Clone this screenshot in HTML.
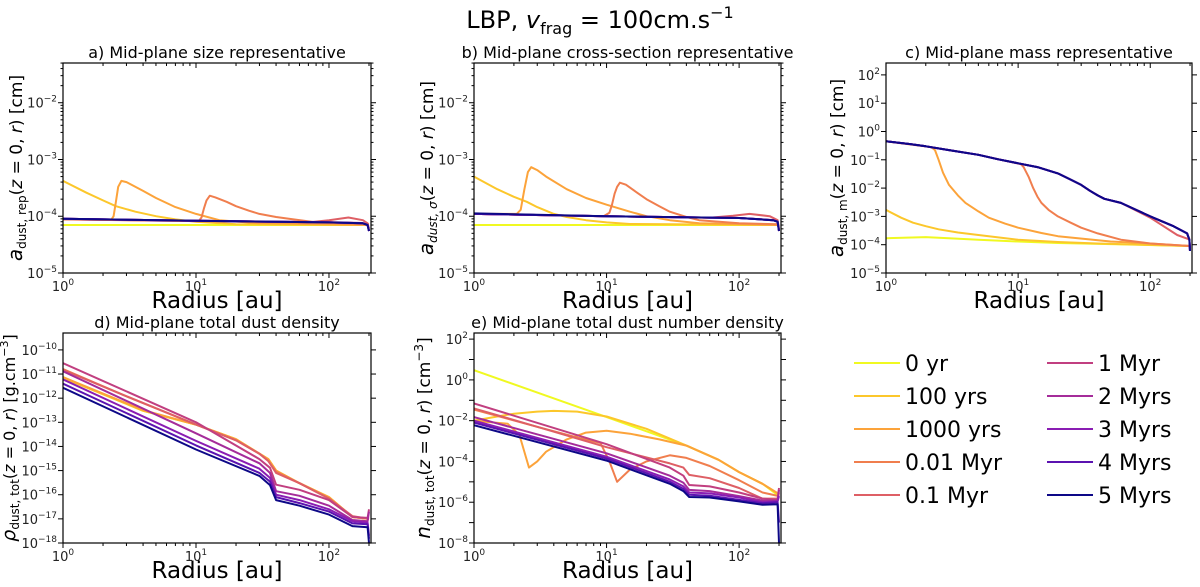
<!DOCTYPE html>
<html><head><meta charset="utf-8"><style>
html,body{margin:0;padding:0;background:#fff;}
svg{display:block;font-family:"DejaVu Sans","Liberation Sans",sans-serif;}
</style></head><body>
<svg id="fig" width="1200" height="587" viewBox="0 0 1200 587">
<text x="600" y="28" text-anchor="middle" font-size="24">LBP, <tspan font-style="italic">v</tspan><tspan font-size="16" dy="6">frag</tspan><tspan dy="-6"> = 100cm.s</tspan><tspan font-size="16" dy="-10">−1</tspan></text>
</svg>
<script>
const seriesLabels=['0 yr','100 yrs','1000 yrs','0.01 Myr','0.1 Myr','1 Myr','2 Myrs','3 Myrs','4 Myrs','5 Myrs'];
const seriesColors=['#f0f921','#fcc72b','#fca33a','#f07e4e','#de5f65','#c13f80','#a52c9a','#8a1db3','#5b13b0','#0d0887'];
const xTickExps=[0,1,2];
const sizeRepData=[
[[1,7e-5],[200,7e-5]],
[[1,4.2e-4],[1.5,2.6e-4],[2,1.9e-4],[2.5,1.5e-4],[3.5,1.2e-4],[5,1e-4],[7,8.8e-5],[10,8e-5],[20,7.2e-5],[200,7e-5]],
[[1,8.8e-5],[2.3,8.6e-5],[2.4,1e-4],[2.5,1.8e-4],[2.6,3.3e-4],[2.75,4.2e-4],[3,4e-4],[4,2.8e-4],[5,2.1e-4],[7,1.45e-4],[10,1.1e-4],[15,8.5e-5],[30,7.5e-5],[200,7e-5]],
[[1,8.8e-5],[10.5,8.2e-5],[11,9.5e-5],[11.5,1.4e-4],[12,1.9e-4],[12.7,2.3e-4],[14,2.15e-4],[17,1.8e-4],[20,1.5e-4],[25,1.25e-4],[30,1.1e-4],[40,9.7e-5],[50,9e-5],[80,7.8e-5],[200,7.2e-5]],
[[1,8.9e-5],[10,8.2e-5],[70,7.8e-5],[100,8.5e-5],[140,9.5e-5],[180,8.5e-5],[195,7.5e-5],[200,6e-5]],
[[1,9e-5],[10,8.3e-5],[100,7.9e-5],[180,7.6e-5],[195,7e-5],[200,5.5e-5]],
[[1,9e-5],[10,8.3e-5],[100,7.8e-5],[180,7.5e-5],[195,7e-5],[200,5.5e-5]],
[[1,9e-5],[10,8.3e-5],[100,7.8e-5],[180,7.5e-5],[195,7e-5],[200,5.5e-5]],
[[1,9e-5],[10,8.3e-5],[100,7.8e-5],[180,7.5e-5],[195,7e-5],[200,5.5e-5]],
[[1,9e-5],[10,8.3e-5],[100,7.8e-5],[180,7.5e-5],[195,7e-5],[200,5.5e-5]]
];
const crossRepData=[
[[1,7e-5],[200,7e-5]],
[[1,5e-4],[1.5,3e-4],[2,2.2e-4],[2.5,1.8e-4],[3,1.45e-4],[4,1.1e-4],[5,9.7e-5],[7,8.5e-5],[10,7.8e-5],[15,7.3e-5],[200,7e-5]],
[[1,1.1e-4],[2.1,1.1e-4],[2.25,1.3e-4],[2.4,3e-4],[2.55,6e-4],[2.7,7.3e-4],[3,6.5e-4],[3.5,5e-4],[5,3e-4],[7,2.1e-4],[10,1.6e-4],[15,1.2e-4],[20,1e-4],[30,8.5e-5],[50,7.5e-5],[200,7e-5]],
[[1,1.1e-4],[9.5,1e-4],[10.5,1.15e-4],[11,1.6e-4],[11.5,2.5e-4],[12,3.3e-4],[12.6,3.9e-4],[14,3.6e-4],[17,2.6e-4],[20,2e-4],[25,1.5e-4],[30,1.2e-4],[40,9.7e-5],[50,8.5e-5],[100,7.5e-5],[200,7.2e-5]],
[[1,1.1e-4],[10,1e-4],[60,9.4e-5],[90,1.02e-4],[120,1.1e-4],[170,1e-4],[195,8.5e-5],[200,6e-5]],
[[1,1.1e-4],[10,1e-4],[100,9.3e-5],[180,8.6e-5],[195,8e-5],[200,5.5e-5]],
[[1,1.1e-4],[10,1e-4],[100,9.3e-5],[180,8.5e-5],[195,8e-5],[200,5.5e-5]],
[[1,1.1e-4],[10,1e-4],[100,9.3e-5],[180,8.5e-5],[195,8e-5],[200,5.5e-5]],
[[1,1.1e-4],[10,1e-4],[100,9.3e-5],[180,8.5e-5],[195,8e-5],[200,5.5e-5]],
[[1,1.12e-4],[10,1e-4],[100,9.3e-5],[180,8.5e-5],[195,8e-5],[200,5.5e-5]]
];
const massRepData=[
[[1,1.7e-4],[2,1.85e-4],[3,1.7e-4],[5,1.5e-4],[10,1.3e-4],[20,1.15e-4],[50,1.05e-4],[200,9e-5]],
[[1,1.7e-3],[1.3,9e-4],[1.6,6e-4],[2,4.5e-4],[2.5,3.5e-4],[3.5,2.7e-4],[5,2.2e-4],[10,1.5e-4],[20,1.25e-4],[40,1.1e-4],[200,9e-5]],
[[1,0.45],[2.2,0.28],[2.35,0.22],[2.5,0.1],[2.7,0.035],[3,0.013],[3.5,5.5e-3],[4,3e-3],[5,1.5e-3],[6,9e-4],[8,5.5e-4],[10,4e-4],[15,2.6e-4],[20,2e-4],[50,1.3e-4],[100,1.1e-4],[200,9e-5]],
[[1,0.45],[2,0.3],[5,0.15],[10.5,0.07],[11,0.055],[12,0.025],[13,0.01],[14,5e-3],[15,3e-3],[17,1.7e-3],[20,1e-3],[25,6e-4],[30,4e-4],[40,2.5e-4],[60,1.5e-4],[100,1.1e-4],[200,9e-5]],
[[1,0.45],[1.5,0.36],[2,0.3],[3,0.22],[5,0.15],[7,0.105],[10,0.075],[14,0.055],[20,0.033],[25,0.02],[30,0.013],[35,0.008],[40,0.0055],[45,0.0042],[60,0.003],[100,9e-4],[160,2.2e-4],[200,1.5e-4]],
[[1,0.45],[1.5,0.36],[2,0.3],[3,0.22],[5,0.15],[7,0.105],[10,0.075],[14,0.055],[20,0.033],[25,0.02],[30,0.013],[35,0.008],[40,0.0055],[45,0.0042],[60,0.003],[100,0.001],[150,4.5e-4],[190,2.5e-4],[198,1.5e-4],[200,6e-5]],
[[1,0.45],[1.5,0.36],[2,0.3],[3,0.22],[5,0.15],[7,0.105],[10,0.075],[14,0.055],[20,0.033],[25,0.02],[30,0.013],[35,0.008],[40,0.0055],[45,0.0042],[60,0.003],[100,0.001],[150,4.5e-4],[190,2.5e-4],[198,1.5e-4],[200,6e-5]],
[[1,0.45],[1.5,0.36],[2,0.3],[3,0.22],[5,0.15],[7,0.105],[10,0.075],[14,0.055],[20,0.033],[25,0.02],[30,0.013],[35,0.008],[40,0.0055],[45,0.0042],[60,0.003],[100,0.001],[150,4.5e-4],[190,2.5e-4],[198,1.5e-4],[200,6e-5]],
[[1,0.45],[1.5,0.36],[2,0.3],[3,0.22],[5,0.15],[7,0.105],[10,0.075],[14,0.055],[20,0.033],[25,0.02],[30,0.013],[35,0.008],[40,0.0055],[45,0.0042],[60,0.003],[100,0.001],[150,4.5e-4],[190,2.5e-4],[198,1.5e-4],[200,6e-5]],
[[1,0.45],[1.5,0.36],[2,0.3],[3,0.22],[5,0.15],[7,0.105],[10,0.075],[14,0.055],[20,0.033],[25,0.02],[30,0.013],[35,0.008],[40,0.0055],[45,0.0042],[60,0.003],[100,0.001],[150,4.5e-4],[190,2.5e-4],[198,1.5e-4],[200,6e-5]]
];
const rhoData=[
[[1,7e-12],[4,3e-13],[10,8e-14],[20,2e-14],[35,3e-15],[40,1e-15],[60,3e-16],[100,8e-17],[150,1.2e-17],[200,1e-17]],
[[1,7e-12],[4,3e-13],[10,8e-14],[20,2e-14],[35,3e-15],[40,1e-15],[60,3e-16],[100,8e-17],[150,1.2e-17],[200,1e-17]],
[[1,7.5e-12],[4,3.2e-13],[10,8e-14],[20,2e-14],[35,3e-15],[40,1e-15],[60,3e-16],[100,8e-17],[150,1.2e-17],[200,1e-17]],
[[1,1.6e-11],[3,1.2e-12],[10,8e-14],[20,1.8e-14],[30,5e-15],[35,2.5e-15],[40,9e-16],[60,3e-16],[100,7e-17],[150,1.2e-17],[200,1e-17]],
[[1,1.5e-11],[3,1.2e-12],[10,8e-14],[20,1.8e-14],[30,5e-15],[35,2.5e-15],[40,8e-16],[60,3e-16],[100,7e-17],[150,1.3e-17],[200,1e-17]],
[[1,2.8e-11],[10,1e-13],[30,3e-15],[36,1.3e-15],[40,2.6e-16],[60,1.6e-16],[100,6e-17],[150,1.2e-17],[195,1.1e-17],[200,2.5e-17]],
[[1,1.3e-11],[10,3.5e-14],[30,2e-15],[36,8e-16],[40,1.4e-16],[60,9e-17],[100,3.5e-17],[150,9e-18],[195,8e-18],[200,2e-17]],
[[1,6e-12],[10,1.7e-14],[30,1.2e-15],[36,5e-16],[40,1e-16],[60,6e-17],[100,2.5e-17],[150,8e-18],[195,7e-18],[200,2e-18]],
[[1,4e-12],[10,1.1e-14],[30,8e-16],[36,3.5e-16],[40,8e-17],[60,4.5e-17],[100,2e-17],[150,6.5e-18],[195,6e-18],[200,1.5e-18]],
[[1,2.7e-12],[10,7.5e-15],[30,6e-16],[36,2.5e-16],[40,6e-17],[60,3.5e-17],[100,1.5e-17],[150,5e-18],[195,4.5e-18],[200,1e-18]]
];
const numData=[
[[1,3],[10,1.5e-2],[40,6e-4],[70,1.2e-4],[100,3e-5],[150,8e-6],[200,2e-6]],
[[1,1e-2],[1.5,1.6e-2],[2,2.2e-2],[3,2.8e-2],[4,3e-2],[6,2.8e-2],[10,1.6e-2],[20,4e-3],[40,6e-4],[70,1.2e-4],[100,3e-5],[150,8e-6],[200,2.5e-6]],
[[1,1e-2],[1.8,7e-3],[2.2,2e-3],[2.6,5e-5],[3,1e-4],[3.5,3e-4],[5,1.2e-3],[7,2.6e-3],[10,3.2e-3],[15,2.3e-3],[25,1.2e-3],[40,6e-4],[70,1.2e-4],[100,3e-5],[150,8e-6],[200,2.5e-6]],
[[1,3.5e-2],[3,5e-3],[6,1.5e-3],[9,8e-4],[10.5,1e-4],[12,1e-5],[15,4e-5],[20,1e-4],[30,2e-4],[40,1.5e-4],[60,6e-5],[100,1.2e-5],[150,3e-6],[200,2e-6]],
[[1,4e-2],[3,5e-3],[10,5e-4],[30,8e-5],[38,5e-5],[42,2.2e-5],[60,1.5e-5],[100,5e-6],[150,1.5e-6],[195,1.5e-6],[200,3e-6]],
[[1,7e-2],[10,7e-4],[30,5e-5],[38,2e-5],[42,7e-6],[60,6e-6],[100,3e-6],[150,1.5e-6],[195,1.3e-6],[200,5e-6]],
[[1,1.5e-2],[10,2.5e-4],[30,2e-5],[38,9e-6],[42,4e-6],[60,3.5e-6],[100,2e-6],[150,1.2e-6],[195,1.2e-6],[200,4e-6]],
[[1,1e-2],[10,1.7e-4],[30,1.3e-5],[38,6e-6],[42,3e-6],[60,2.7e-6],[100,1.7e-6],[150,1e-6],[195,1.1e-6],[200,2e-6]],
[[1,8e-3],[10,1.4e-4],[30,1e-5],[38,4.5e-6],[42,2.3e-6],[60,2.1e-6],[100,1.3e-6],[150,9e-7],[195,1e-6],[200,1e-7]],
[[1,6e-3],[10,1.1e-4],[30,8e-6],[38,3.5e-6],[42,1.8e-6],[60,1.7e-6],[100,1.1e-6],[150,7.5e-7],[195,8e-7],[200,1e-8]]
];
const panelYTicks={a:[-5,-4,-3,-2],b:[-5,-4,-3,-2],c:[-5,-4,-3,-2,-1,0,1,2],d:[-18,-17,-16,-15,-14,-13,-12,-11,-10],e:[-8,-6,-4,-2,0,2]};

const NS='http://www.w3.org/2000/svg';
const svg=document.getElementById('fig');
function el(tag,attrs,parent){const e=document.createElementNS(NS,tag);for(const k in attrs)e.setAttribute(k,attrs[k]);(parent||svg).appendChild(e);return e;}
const XMAXLOG=Math.log10(207);

function drawPanel(p){
  const g=el('g',{});
  
  
  const xs=r=>p.x0+Math.log10(r)/XMAXLOG*(p.x1-p.x0);
  const ys=v=>p.y1-(Math.log10(v)-p.lo)/(p.hi-p.lo)*(p.y1-p.y0);
  const cid='clip'+p.key;
  const cp=el('clipPath',{id:cid},g);el('rect',{x:p.x0,y:p.y0,width:p.x1-p.x0,height:p.y1-p.y0},cp);
  p.data.forEach((s,i)=>{
    const d=s.map((pt,j)=>(j?'L':'M')+xs(pt[0]).toFixed(1)+','+ys(pt[1]).toFixed(1)).join('');
    const path=el('path',{d:d,fill:'none',stroke:seriesColors[i],'stroke-width':2,'stroke-linejoin':'round','clip-path':'url(#'+cid+')'},g);
    
    
  });
  const fr=el('rect',{x:p.x0,y:p.y0,width:p.x1-p.x0,height:p.y1-p.y0,fill:'none',stroke:'#000','stroke-width':1.2},g);
  
  
  for(let e=0;e<=2;e++){for(let m=1;m<10;m++){const r=m*Math.pow(10,e);if(r>207)break;const x=xs(r);const L=m===1?5:3;
    el('line',{x1:x,x2:x,y1:p.y1,y2:p.y1+L,stroke:'#000','stroke-width':1},g);
    el('line',{x1:x,x2:x,y1:p.y0,y2:p.y0+L,stroke:'#000','stroke-width':1},g);}}
  xTickExps.forEach(e=>{const t=el('text',{x:xs(Math.pow(10,e)),y:p.y1+18,'text-anchor':'middle','font-size':13,fill:'#222'},g);
    
    
    t.innerHTML='10<tspan font-size="9" dy="-6">'+e+'</tspan>';});
  for(let e=Math.floor(p.lo);e<=Math.ceil(p.hi);e++){
    for(let m=1;m<10;m++){const v=m*Math.pow(10,e);const lv=Math.log10(v);if(lv<p.lo-1e-6||lv>p.hi)continue;const y=ys(v);const L=m===1?5:2.5;
      if(m>1 && (p.hi-p.lo)>7) continue;
      el('line',{x1:p.x0-L,x2:p.x0,y1:y,y2:y,stroke:'#000','stroke-width':1},g);
      el('line',{x1:p.x1,x2:p.x1+L,y1:y,y2:y,stroke:'#000','stroke-width':1},g);}
  }
  p.yt.forEach(e=>{const y=ys(Math.pow(10,e));const t=el('text',{x:p.x0-6,y:y+5,'text-anchor':'end','font-size':13,fill:'#222'},g);
    
    
    t.innerHTML='10<tspan font-size="9" dy="-6">'+(e<0?'−'+(-e):e)+'</tspan>';});
  const tt=el('text',{x:(p.x0+p.x1)/2,y:p.y0-5,'text-anchor':'middle','font-size':16},g);
  tt.textContent=p.title;
  
  
  const xl=el('text',{x:(p.x0+p.x1)/2,y:p.y1+35,'text-anchor':'middle','font-size':23},g);
  xl.textContent='Radius [au]';
  
  
  const cy=(p.y0+p.y1)/2;
  const yl=el('text',{x:p.ylx,y:cy,'text-anchor':'middle','font-size':p.yfs||17,transform:'rotate(-90 '+p.ylx+' '+cy+')'},g);
  yl.innerHTML=p.ylab;
  
  
}
const sub=s=>'<tspan font-size="12" dy="4">'+s+'</tspan><tspan dy="-4">';
drawPanel({key:'a',name:'panel-a-size-representative',x0:63,x1:371,y0:63,y1:273,lo:-5,hi:-1.3,yt:panelYTicks.a,data:sizeRepData,title:'a) Mid-plane size representative',ylx:22,
  ylab:'<tspan font-style="italic" font-size="20">a</tspan>'+sub('dust, rep')+'(<tspan font-style="italic">z</tspan> = 0, <tspan font-style="italic">r</tspan>) [cm]</tspan>'});
drawPanel({key:'b',name:'panel-b-cross-section-representative',x0:474,x1:781,y0:63,y1:273,lo:-5,hi:-1.3,yt:panelYTicks.b,data:crossRepData,title:'b) Mid-plane cross-section representative',ylx:433,
  ylab:'<tspan font-style="italic" font-size="20">a</tspan>'+sub('<tspan font-style="italic">dust, σ</tspan>')+'(<tspan font-style="italic">z</tspan> = 0, <tspan font-style="italic">r</tspan>) [cm]</tspan>'});
drawPanel({key:'c',name:'panel-c-mass-representative',x0:886,x1:1192,y0:63,y1:273,lo:-5,hi:2.42,yt:panelYTicks.c,data:massRepData,title:'c) Mid-plane mass representative',ylx:843,
  ylab:'<tspan font-style="italic" font-size="20">a</tspan>'+sub('dust, m')+'(<tspan font-style="italic">z</tspan> = 0, <tspan font-style="italic">r</tspan>) [cm]</tspan>'});
drawPanel({key:'d',name:'panel-d-total-dust-density',x0:63,x1:371,y0:333,y1:543,lo:-18,hi:-9.3,yt:panelYTicks.d,data:rhoData,title:'d) Mid-plane total dust density',ylx:15,yfs:16,
  ylab:'<tspan font-style="italic" font-size="19">ρ</tspan>'+sub('dust, tot')+'(<tspan font-style="italic">z</tspan> = 0, <tspan font-style="italic">r</tspan>) [g.cm</tspan><tspan font-size="11" dy="-7">−3</tspan><tspan dy="7">]</tspan>'});
drawPanel({key:'e',name:'panel-e-total-dust-number-density',x0:474,x1:781,y0:333,y1:543,lo:-8,hi:2.3,yt:panelYTicks.e,data:numData,title:'e) Mid-plane total dust number density',ylx:430,
  ylab:'<tspan font-style="italic" font-size="20">n</tspan>'+sub('dust, tot')+'(<tspan font-style="italic">z</tspan> = 0, <tspan font-style="italic">r</tspan>) [cm</tspan><tspan font-size="12" dy="-7">−3</tspan><tspan dy="7">]</tspan>'});

const lg=el('g',{});


seriesLabels.forEach((lab,i)=>{
  const col=Math.floor(i/5),row=i%5;
  const lx=col?1047:854, ly=363+row*33;
  const ent=el('g',{},lg);
  
  
  el('line',{x1:lx,x2:lx+46,y1:ly,y2:ly,stroke:seriesColors[i],'stroke-width':2},ent);
  const t=el('text',{x:lx+51,y:ly+8,'font-size':22},ent);
  t.textContent=lab;
});
</script>
</body></html>
